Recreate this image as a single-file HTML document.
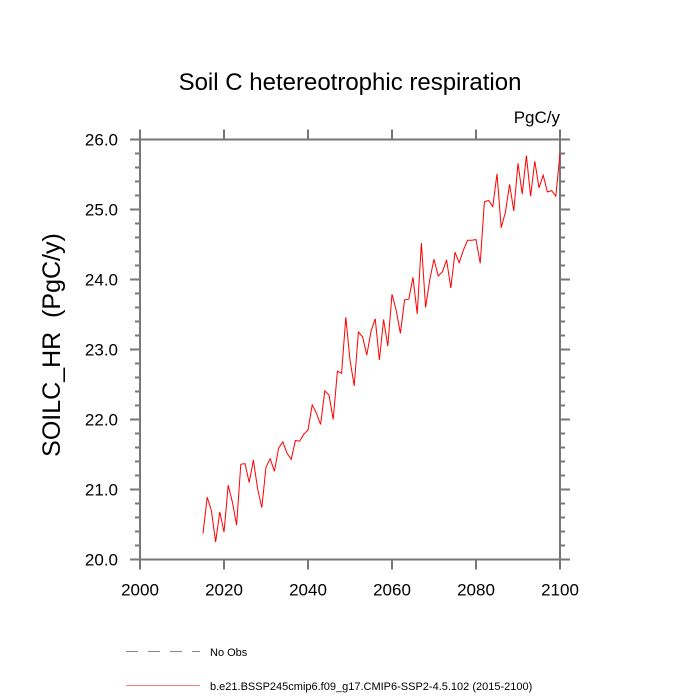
<!DOCTYPE html>
<html><head><meta charset="utf-8"><style>
body{margin:0;background:#fff;}
svg{display:block;font-family:"Liberation Sans",sans-serif;}
</style></head><body>
<svg id="chart" width="700" height="700">
<text x="350" y="90" text-anchor="middle" font-size="24">Soil C hetereotrophic respiration</text>
<text x="560" y="123" text-anchor="end" font-size="17">PgC/y</text>
<text transform="translate(60,345) rotate(-90)" text-anchor="middle" font-size="25" xml:space="preserve">SOILC_HR  (PgC/y)</text>
<g id="axes"></g>
<polyline id="series" fill="none" stroke="#ff0000" stroke-width="1"/>
<line x1="126" y1="651.5" x2="200" y2="651.5" stroke="#888" stroke-dasharray="12,10"/>
<text x="210" y="656" font-size="11">No Obs</text>
<rect x="126" y="685" width="74" height="0.8" fill="#ff6060"/>
<text x="210" y="690" font-size="11">b.e21.BSSP245cmip6.f09_g17.CMIP6-SSP2-4.5.102 (2015-2100)</text>
</svg>
<script>
const startYear = 2015;
const values = [20.37,20.89,20.70,20.25,20.68,20.39,21.06,20.82,20.49,21.36,21.37,21.10,21.42,21.01,20.74,21.32,21.44,21.26,21.59,21.68,21.52,21.43,21.70,21.69,21.79,21.85,22.21,22.09,21.93,22.41,22.35,22.00,22.69,22.66,23.46,22.85,22.48,23.25,23.18,22.92,23.26,23.44,22.85,23.43,23.05,23.79,23.56,23.23,23.71,23.72,24.03,23.51,24.52,23.60,24.00,24.29,24.05,24.11,24.28,23.88,24.39,24.24,24.42,24.56,24.56,24.57,24.23,25.11,25.13,25.04,25.51,24.74,24.96,25.36,24.98,25.66,25.22,25.77,25.19,25.69,25.31,25.49,25.25,25.27,25.19,25.80];
const xTicks = [2000,2020,2040,2060,2080,2100];
const yTicks = [20.0,21.0,22.0,23.0,24.0,25.0,26.0];
const X0=140,X1=560,Y0=559.5,Y1=139.5;
const xs = v => X0+(v-2000)/100*(X1-X0);
const ys = v => Y0-(v-20)/6*(Y0-Y1);
const ns="http://www.w3.org/2000/svg";
const g=document.getElementById('axes');
function ln(x1,y1,x2,y2,name){const l=document.createElementNS(ns,'line');
l.setAttribute('x1',x1);l.setAttribute('y1',y1);l.setAttribute('x2',x2);l.setAttribute('y2',y2);
l.setAttribute('stroke','#777');l.setAttribute('stroke-width','2');


g.appendChild(l);}
function tx(x,y,s,anchor,name){const t=document.createElementNS(ns,'text');
t.setAttribute('x',x);t.setAttribute('y',y);t.setAttribute('font-size','17');t.setAttribute('text-anchor',anchor);t.textContent=s;


g.appendChild(t);}
ln(X0,Y1,X1,Y1,'plot-frame');ln(X0,Y0,X1,Y0,'x-axis');ln(X0,Y1,X0,Y0,'y-axis');ln(X1,Y1,X1,Y0,'plot-frame');
xTicks.forEach(v=>{const x=xs(v);ln(x,Y0,x,Y0+10,'x-tick');ln(x,Y1,x,Y1-10,'x-tick');});
xTicks.forEach(v=>tx(xs(v),Y0+36,String(v),'middle','x-tick-label'));
for(let i=0;i<=30;i++){const v=20+i*0.2;const maj=i%5===0;const L=maj?10:5;const y=ys(v);
ln(X0-L,y,X0,y,'y-tick');ln(X1,y,X1+L,y,'y-tick');}
yTicks.forEach(v=>tx(X0-22,ys(v)+6,v.toFixed(1),'end','y-tick-label'));
document.getElementById('series').setAttribute('points',values.map((v,i)=>xs(startYear+i)+','+ys(v)).join(' '));
</script>
</body></html>
